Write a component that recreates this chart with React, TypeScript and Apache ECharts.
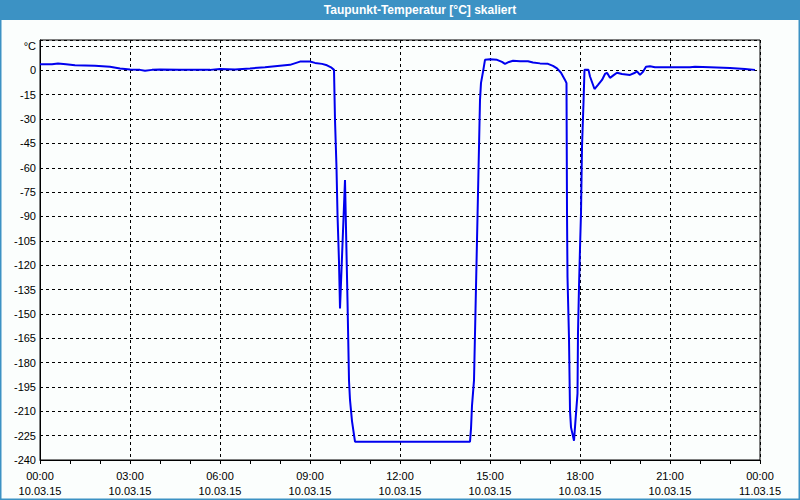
import React, { useEffect, useRef } from "react";
import * as echarts from "echarts";

const TITLE = "Taupunkt-Temperatur [°C] skaliert";

const times: string[] = [
  "00:00", "00:24", "00:36", "00:52", "01:10", "01:50", "02:20", "02:40", "03:00", "03:20",
  "03:30", "03:44", "04:00", "04:40", "05:40", "06:00", "06:30", "07:00", "07:30", "08:00",
  "08:20", "08:40", "09:00", "09:10", "09:24", "09:34", "09:42", "09:48", "09:50", "09:53",
  "09:55", "09:58", "10:00", "10:10", "10:15", "10:18", "10:20", "10:24", "10:28", "10:30",
  "14:20", "14:22", "14:24", "14:28", "14:34", "14:40", "14:42", "14:46", "14:50", "15:00",
  "15:14", "15:24", "15:30", "15:38", "15:46", "16:00", "16:16", "16:26", "16:40", "16:56",
  "17:06", "17:14", "17:22", "17:30", "17:33", "17:34", "17:35", "17:38", "17:40", "17:42",
  "17:48", "17:52", "17:55", "17:56", "17:58", "18:00", "18:02", "18:04", "18:07", "18:09",
  "18:17", "18:20", "18:29", "18:36", "18:44", "18:50", "18:54", "19:00", "19:08", "19:14",
  "19:24", "19:40", "19:50", "19:54", "20:00", "20:06", "20:12", "20:20", "20:30", "21:40",
  "21:50", "22:20", "23:00", "23:30", "23:50",
];

const values: number[] = [
  3.7, 3.7, 4.2, 3.7, 3.1, 2.8, 2.2, 1.2, 0.6, 0.3,
  -0.3, 0.3, 0.6, 0.3, 0.3, 0.9, 0.6, 1.2, 1.9, 2.8,
  3.4, 5.4, 5.4, 4.6, 4.0, 3.1, 1.9, 0.3, -30.6, -60,
  -88.6, -118, -146.6, -67.6, -141.7, -191, -203, -216, -224.5, -228.7,
  -228.7, -220.7, -206.5, -191, -104.6, -18.2, -7.7, -0.9, 6.5, 6.8,
  6.5, 5.2, 4.0, 5.2, 5.9, 5.6, 5.6, 4.9, 4.3, 4.0,
  2.8, 1.2, -1.5, -5.9, -7.9, -87.2, -127.3, -165.1, -209.6, -219.9,
  -228.1, -211.4, -199.1, -161.2, -133.5, -109.6, -88, -47, -20, 0.3,
  0.3, -3.8, -11.5, -9, -5.9, -2.2, -1.5, -4.6, -2.8, -1.5,
  -2.2, -2.8, -1.5, -0.6, -2.8, -0.9, 2.2, 2.5, 1.9, 1.9,
  2.2, 1.9, 1.5, 0.9, 0.3,
];

const xTickHours: string[] = ["00:00", "03:00", "06:00", "09:00", "12:00", "15:00", "18:00", "21:00", "00:00"];
const xTickDates: string[] = ["10.03.15", "10.03.15", "10.03.15", "10.03.15", "10.03.15", "10.03.15", "10.03.15", "10.03.15", "11.03.15"];
const yUnitLabel = "°C";

const toMin = (t: string) => {
  const [h, m] = t.split(":").map(Number);
  return h * 60 + m;
};

export default function App() {
  const ref = useRef<HTMLDivElement>(null);
  useEffect(() => {
    if (!ref.current) return;
    const chart = echarts.init(ref.current, undefined, { renderer: "svg" });
    const font = "'Liberation Sans', Arial, sans-serif";
    const data = times.map((t, i) => [toMin(t), values[i]]);
    chart.setOption({
      animation: false,
      backgroundColor: "#fbfefd",
      graphic: [
        {
          type: "rect",
          shape: { x: 0, y: 0, width: 800, height: 500 },
          style: { fill: "none", stroke: "#3c92c4", lineWidth: 3 },
          z: 10,
        },
        {
          type: "rect",
          shape: { x: 0, y: 0, width: 800, height: 20 },
          style: { fill: "#3c92c4" },
          z: 11,
        },
        {
          type: "text",
          x: 420,
          y: 10,
          style: {
            text: TITLE,
            fill: "#ffffff",
            font: `bold 12px ${font}`,
            align: "center",
            verticalAlign: "middle",
          },
          z: 12,
        },
      ],
      grid: {
        left: 40,
        right: 40,
        top: 40,
        bottom: 40,
        show: true,
        borderColor: "#000",
        borderWidth: 1,
        backgroundColor: "transparent",
      },
      xAxis: {
        type: "value",
        min: 0,
        max: 1440,
        interval: 180,
        axisLine: { show: true, onZero: false, lineStyle: { color: "#000", width: 1 } },
        axisTick: { show: true, length: 4, lineStyle: { color: "#000" } },
        minorTick: { show: true, splitNumber: 3, length: 4, lineStyle: { color: "#000" } },
        splitLine: { show: true, lineStyle: { color: "#000", type: [3, 3], width: 1 } },
        axisLabel: {
          color: "#000",
          fontFamily: font,
          fontSize: 11,
          lineHeight: 15,
          margin: 8,
          formatter: (v: number) => {
            const i = Math.round(v / 180);
            return `${xTickHours[i]}\n${xTickDates[i]}`;
          },
        },
      },
      yAxis: {
        type: "value",
        min: -240,
        max: 18.7,
        interval: 15,
        axisLine: { show: true, onZero: false, lineStyle: { color: "#000", width: 1 } },
        axisTick: { show: false },
        splitLine: { show: true, lineStyle: { color: "#000", type: [3, 3], width: 1 } },
        axisLabel: {
          color: "#000",
          fontFamily: font,
          fontSize: 11,
          margin: 4,
          formatter: (v: number) => {
            if (Math.abs(v - 15) < 0.01) return yUnitLabel;
            if (Math.abs(v / 15 - Math.round(v / 15)) > 0.001) return "";
            return String(v);
          },
        },
      },
      series: [
        {
          type: "line",
          data,
          showSymbol: false,
          symbol: "none",
          lineStyle: { color: "#0000ee", width: 2 },
          itemStyle: { color: "#0000ee" },
        },
      ],
    });
    return () => chart.dispose();
  }, []);
  return (
    <div
      ref={ref}
      style={{ position: "fixed", left: 0, top: 0, width: 800, height: 500 }}
    />
  );
}
